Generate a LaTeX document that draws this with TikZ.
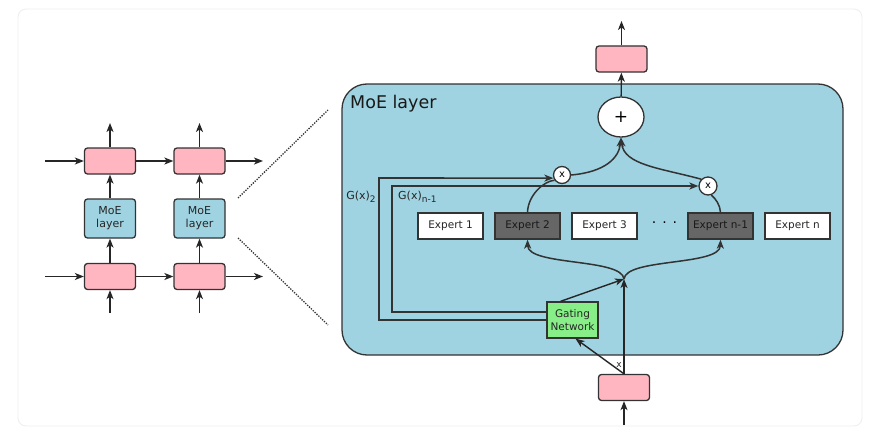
\documentclass[tikz,border=0pt]{standalone}
\usepackage{fontspec}
\setmainfont{DejaVu Sans}
\usetikzlibrary{arrows.meta,shapes.geometric,calc}
\definecolor{pinkbox}{HTML}{FFB6C1}
\definecolor{bluebox}{HTML}{9FD3E1}
\definecolor{greenbox}{HTML}{88EE88}
\definecolor{darkexp}{HTML}{666666}
\definecolor{edgecol}{HTML}{333333}
\definecolor{framegray}{HTML}{EFEFEF}
\begin{document}
\begin{tikzpicture}[x=1pt,y=-1pt,
  box/.style={draw=edgecol,line width=1.3pt,inner sep=0pt},
  pinkb/.style={box,fill=pinkbox,rounded corners=3pt,minimum width=51pt,minimum height=26pt},
  moeb/.style={box,fill=bluebox,rounded corners=3pt,minimum width=51pt,minimum height=39pt,
    font=\fontsize{11}{13}\selectfont,align=center,text=black!85},
  expert/.style={box,fill=white,minimum width=65pt,minimum height=26pt,
    font=\fontsize{10.5}{12}\selectfont,text=black!85},
  expertdark/.style={expert,fill=darkexp,text=black!90},
  mulc/.style={box,circle,fill=white,minimum size=17pt,font=\fontsize{10}{10}\selectfont},
  tip/.tip={Stealth[length=9pt,width=7pt,inset=2.5pt]},
  arr/.style={-tip,line width=1.4pt,draw=black!85},
  curvearr/.style={arr,draw=edgecol,line width=1.5pt},
  plain/.style={line width=1.5pt,draw=edgecol},
  gline/.style={-tip,line width=1.6pt,draw=edgecol},
  dotl/.style={line width=1.3pt,dash pattern=on 1.3pt off 1.3pt,draw=black!80},
  lbl/.style={font=\fontsize{11}{13}\selectfont,text=black!85,inner sep=0pt}
]
\useasboundingbox (0,0) rectangle (872,436);
\fill[white] (0,0) rectangle (872,436);
\draw[framegray,line width=0.9pt,rounded corners=8pt] (18,9) rectangle (862,426);

% ---------- left part ----------
\node[pinkb] (p1t) at (110,161) {};
\node[pinkb] (p2t) at (199.5,161) {};
\node[moeb] (m1) at (110,218.5) {MoE\\layer};
\node[moeb] (m2) at (199.5,218.5) {MoE\\layer};
\node[pinkb] (p1b) at (110,276.5) {};
\node[pinkb] (p2b) at (199.5,276.5) {};

\coordinate (in1t) at (45,161);
\coordinate (out2t) at (263,161);
\coordinate (in1b) at (45,276.5);
\coordinate (out2b) at (263,276.5);
\coordinate (up1) at (110,123);
\coordinate (up2) at (199.5,123);
\coordinate (lo1) at (110,313);
\coordinate (lo2) at (199.5,313);

\draw[arr] (in1t) -- (p1t);
\draw[arr] (p1t) -- (p2t);
\draw[arr] (p2t) -- (out2t);
\draw[arr] (in1b) -- (p1b);
\draw[arr] (p1b) -- (p2b);
\draw[arr] (p2b) -- (out2b);
\draw[arr] (p1t) -- (up1);
\draw[arr] (p2t) -- (up2);
\draw[arr] (m1) -- (p1t);
\draw[arr] (m2) -- (p2t);
\draw[arr] (p1b) -- (m1);
\draw[arr] (p2b) -- (m2);
\draw[arr] (lo1) -- (p1b);
\draw[arr] (lo2) -- (p2b);

% zoom lines
\coordinate (z1a) at (238,198);
\coordinate (z1b) at (328,110);
\coordinate (z2a) at (238,238);
\coordinate (z2b) at (328,325);
\draw[dotl] (z1a) -- (z1b);
\draw[dotl] (z2a) -- (z2b);

% ---------- MoE layer box ----------
\node[box,fill=bluebox,rounded corners=25pt,minimum width=501pt,minimum height=271pt] (moe) at (592.5,219.5) {};
\node[anchor=west,font=\fontsize{17.5}{20}\selectfont,text=black!90,inner sep=0pt] (moetitle) at (350,104) {MoE layer};

\node[box,ellipse,fill=white,minimum width=46pt,minimum height=40pt,font=\fontsize{17}{17}\selectfont] (plus) at (621,117) {+};
\node[pinkb] (ptop) at (621.5,59) {};
\coordinate (topend) at (621.5,21);
\draw[arr] (ptop) -- (topend);
\draw[arr] (plus) -- (ptop);

\node[mulc] (x1) at (562,175) {x};
\node[mulc,minimum size=18pt] (x2) at (708,186) {x};

\node[expert] (e1) at (450.5,226) {Expert 1};
\node[expertdark] (e2) at (527.5,226) {Expert 2};
\node[expert] (e3) at (604.5,226) {Expert 3};
\node[font=\fontsize{14}{14}\selectfont,inner sep=0pt] (dots) at (664.5,225) {·\hspace{6pt}·\hspace{6pt}·};
\node[expertdark] (en1) at (720.5,226) {Expert n-1};
\node[expert] (en) at (797.5,226) {Expert n};

\node[box,fill=greenbox,minimum width=51pt,minimum height=36pt,align=center,
  font=\fontsize{10.5}{13}\selectfont,text=black!85] (gate) at (572.5,320) {Gating\\Network};

\node[pinkb] (pin) at (624,387.5) {};
\coordinate (botstart) at (624,425);
\coordinate (junc) at (624,279);
\draw[arr] (botstart) -- (pin);
\draw[arr] (pin.north) -- (junc);
\draw[arr] (pin.north) -- ($(gate.south)+(3,0)$);
\node[font=\fontsize{9}{9}\selectfont,inner sep=0pt,text=black!85] (xlbl) at (619,365) {x};
\draw[arr] ($(gate.north)+(-12,0)$) -- (junc);

% dispatch curves
\draw[curvearr] (junc) .. controls (622,258) and (528,266) .. (e2.south);
\draw[curvearr] (junc) .. controls (626,258) and (720,266) .. (en1.south);

% expert outputs
\draw[plain] (e2.north) .. controls (528,195) and (544,181) .. (x1.215);
\draw[plain] (en1.north) .. controls (720,205) and (716,199) .. (x2.290);
\draw[curvearr] (x1.east) .. controls (605,172) and (619,158) .. (plus.south);
\draw[curvearr] (x2.135) .. controls (660,168) and (624,165) .. (plus.south);

% gating outputs
\draw[gline] (gate.west) -- (379,320) -- (379,178) -- (x1.200);
\draw[gline] ($(gate.west)+(0,-8)$) -- (392,312) -- (392,186) -- (x2.west);
\node[lbl] (g2) at (361,197) {G(x)\raisebox{-3pt}{\fontsize{9}{9}\selectfont 2}};
\node[lbl,anchor=west] (gn1) at (398,197) {G(x)\raisebox{-3pt}{\fontsize{9}{9}\selectfont n-1}};
\end{tikzpicture}
\end{document}
